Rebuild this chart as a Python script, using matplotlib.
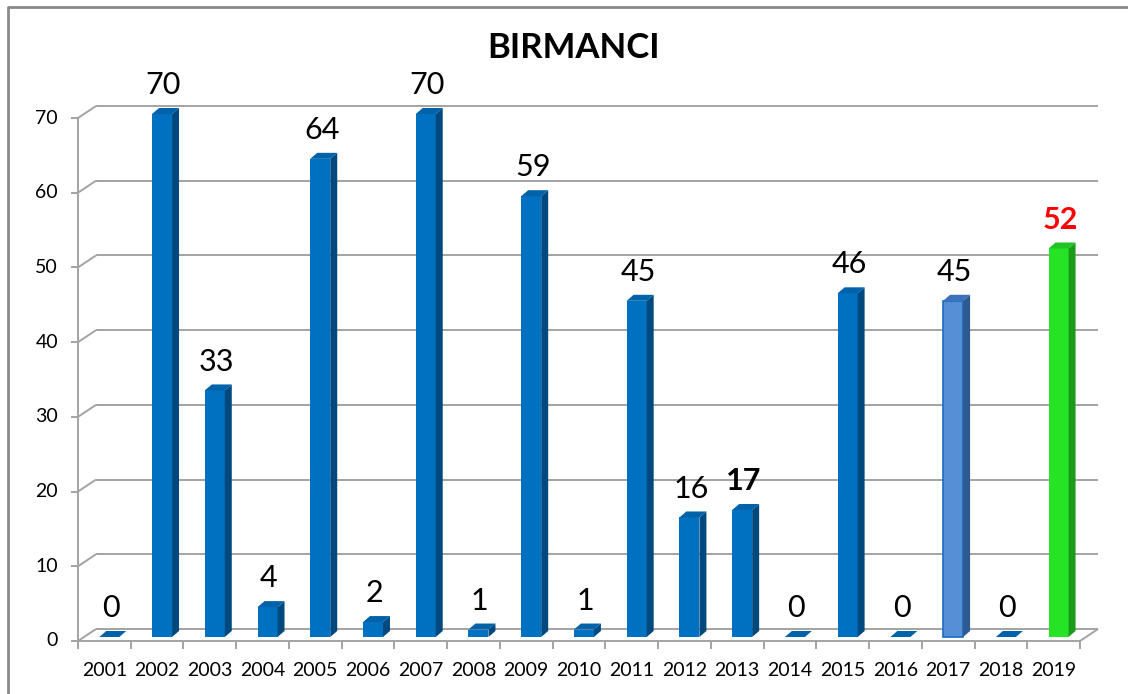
import matplotlib.pyplot as plt
from matplotlib.patches import Polygon
from matplotlib.lines import Line2D

years = ['2001', '2002', '2003', '2004', '2005', '2006', '2007', '2008', '2009', '2010',
         '2011', '2012', '2013', '2014', '2015', '2016', '2017', '2018', '2019']
values = [0, 70, 33, 4, 64, 2, 70, 1, 59, 1, 45, 16, 17, 0, 46, 0, 45, 0, 52]
title = 'BIRMANCI'

# colours of the bars (front, side, top, edge)
blue = ('#0070C0', '#00497F', '#0062A9', 'none')
special = {
    '2017': ('#578FD6', '#2D5A93', '#3C72BA', '#1A6DC4'),
    '2019': ('#26E326', '#1A9C1A', '#21C421', 'none'),
}
label_style = {
    '2013': dict(color='black', fontweight='bold'),
    '2019': dict(color='#FF0000', fontweight='bold'),
}

plt.rcParams['font.family'] = ['Lato', 'DejaVu Sans']

W, H = 1128, 694
fig = plt.figure(figsize=(W / 100, H / 100), dpi=100)
x0, x1, y0, y1 = 78, 1080, 641, 118
ax = fig.add_axes([x0 / W, 1 - y0 / H, (x1 - x0) / W, (y0 - y1) / H])
n = len(values)
ax.set_xlim(-0.5, n - 0.5)
ax.set_ylim(0, 70)
ax.axis('off')

px_x = (x1 - x0) / n
px_y = (y0 - y1) / 70
bdx, bdy = 18 / px_x, 12 / px_y

grid = dict(color='#A3A3A3', lw=1.4, clip_on=False, zorder=1, solid_capstyle='butt')
for v in range(0, 71, 10):
    ax.plot([-0.5 + bdx, n - 0.5 + bdx], [v + bdy, v + bdy], **grid)
    ax.plot([-0.5, -0.5 + bdx], [v, v + bdy], **grid)
    ax.plot([-0.5 - 7 / px_x, -0.5], [v, v], **grid)
    ax.text(-0.5 - 20 / px_x, v, str(v), ha='right', va='center', fontsize=14)
ax.plot([-0.5, -0.5], [0, 70], **grid)
ax.plot([-0.5, n - 0.5, n - 0.5 + bdx], [0, 0, bdy], **grid)
for i in range(n + 1):
    ax.plot([i - 0.5, i - 0.5], [0, -8 / px_y], **grid)
for i, yr in enumerate(years):
    ax.text(i, -30 / px_y, yr, ha='center', va='center', fontsize=14)

# bars with a small 3d look
left = [i - 0.5 + 21.3 / px_x for i in range(n)]
bw = 20 / px_x
base = 4 / px_y
ddx, ddy = 7 / px_x, 6 / px_y
cols = [special.get(yr, blue) for yr in years]
ax.bar(left, values, width=bw, bottom=base, align='edge',
       color=[c[0] for c in cols], edgecolor=[c[3] for c in cols],
       linewidth=1.2, zorder=3, clip_on=False)
for xl, v, c in zip(left, values, cols):
    xr, top = xl + bw, base + v
    ax.add_patch(Polygon([(xr, base), (xr + ddx, base + ddy), (xr + ddx, top + ddy), (xr, top)],
                         closed=True, fc=c[1], ec='none', zorder=3, clip_on=False))
    ax.add_patch(Polygon([(xl, top), (xr, top), (xr + ddx, top + ddy), (xl + ddx, top + ddy)],
                         closed=True, fc=c[2], ec='none', zorder=3, clip_on=False))

for i, (yr, v) in enumerate(zip(years, values)):
    st = label_style.get(yr, dict(color='black'))
    ax.annotate(str(v), (i + 0.12, base + v + ddy), xytext=(0, 10), textcoords='offset points',
                ha='center', va='baseline', fontsize=22, annotation_clip=False, **st)

fig.text(573.5 / W, 1 - 48.5 / H, title, ha='center', va='center', fontsize=25, fontweight='bold')
fig.add_artist(Line2D([8 / W, 8 / W, 1], [0, 1 - 7 / H, 1 - 7 / H],
                      transform=fig.transFigure, color='#8A8A8A', lw=2))

fig.savefig('out.png', dpi=100)
